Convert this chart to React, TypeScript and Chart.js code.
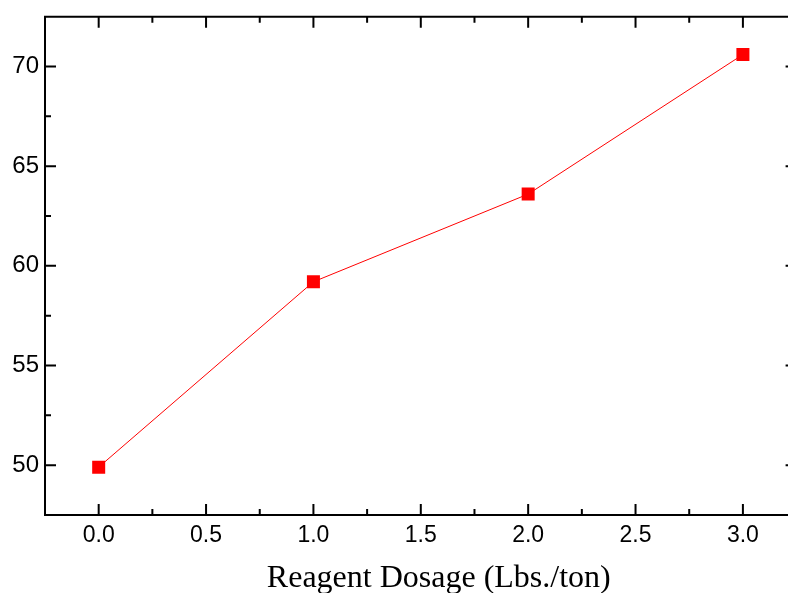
import React, { useEffect, useRef } from "react";
import { Chart, registerables } from "chart.js";

Chart.register(...registerables);

const xValues = [0, 1, 2, 3];
const yValues = [49.9, 59.2, 63.6, 70.6];
const xTickValues = [0, 0.5, 1, 1.5, 2, 2.5, 3];
const xTickLabels = ["0.0", "0.5", "1.0", "1.5", "2.0", "2.5", "3.0"];
const xMinorValues = [-0.25, 0.25, 0.75, 1.25, 1.75, 2.25, 2.75, 3.25];
const yTickValues = [50, 55, 60, 65, 70];
const yTickLabels = ["50", "55", "60", "65", "70"];
const yMinorValues = [47.5, 52.5, 57.5, 62.5, 67.5, 72.5];
const xAxisMin = -0.25;
const xAxisEnd = 3.25; // right frame of the plot box (just outside the picture)
const xVisibleMax = 3.21;
const yAxisMin = 47.5;
const yAxisMax = 72.5;
const xTitle = "Reagent Dosage (Lbs./ton)";

const framePlugin = {
  id: "frame",
  afterDraw(chart: any) {
    const { ctx, chartArea: a, scales } = chart;
    const xs = scales.x;
    const ys = scales.y;
    const rightX = xs.getPixelForValue(xAxisEnd);
    ctx.save();
    ctx.strokeStyle = "#000";
    ctx.lineWidth = 2;
    ctx.lineCap = "butt";
    ctx.beginPath();
    ctx.moveTo(a.left, a.top);
    ctx.lineTo(rightX + 1, a.top);
    ctx.moveTo(a.left, a.bottom);
    ctx.lineTo(rightX + 1, a.bottom);
    ctx.moveTo(a.left, a.top - 1);
    ctx.lineTo(a.left, a.bottom + 1);
    ctx.moveTo(rightX, a.top - 1);
    ctx.lineTo(rightX, a.bottom + 1);
    const major = 11;
    const minor = 6;
    xTickValues.forEach((v) => {
      const px = xs.getPixelForValue(v);
      ctx.moveTo(px, a.bottom);
      ctx.lineTo(px, a.bottom - major);
      ctx.moveTo(px, a.top);
      ctx.lineTo(px, a.top + major);
    });
    xMinorValues.forEach((v) => {
      const px = xs.getPixelForValue(v);
      ctx.moveTo(px, a.bottom);
      ctx.lineTo(px, a.bottom - minor);
      ctx.moveTo(px, a.top);
      ctx.lineTo(px, a.top + minor);
    });
    yTickValues.forEach((v) => {
      const py = ys.getPixelForValue(v);
      ctx.moveTo(a.left, py);
      ctx.lineTo(a.left + major, py);
      ctx.moveTo(rightX, py);
      ctx.lineTo(rightX - major, py);
    });
    yMinorValues.forEach((v) => {
      const py = ys.getPixelForValue(v);
      ctx.moveTo(a.left, py);
      ctx.lineTo(a.left + minor, py);
      ctx.moveTo(rightX, py);
      ctx.lineTo(rightX - minor, py);
    });
    ctx.stroke();
    ctx.font = '32px "Liberation Serif", "Times New Roman", serif';
    ctx.fillStyle = "#000";
    ctx.textAlign = "center";
    ctx.textBaseline = "alphabetic";
    ctx.fillText(xTitle, (a.left + rightX) / 2 + 18, 587);
    ctx.restore();
  },
};

export default function App() {
  const canvasRef = useRef<HTMLCanvasElement | null>(null);

  useEffect(() => {
    const canvas = canvasRef.current;
    if (!canvas) return;
    const chart = new Chart(canvas, {
      type: "line",
      data: {
        datasets: [
          {
            data: xValues.map((x, i) => ({ x, y: yValues[i] })),
            borderColor: "#ff0000",
            borderWidth: 1,
            backgroundColor: "#ff0000",
            pointStyle: "rect",
            pointRadius: 9.2,
            pointBorderWidth: 0,
            pointBackgroundColor: "#ff0000",
            tension: 0,
            fill: false,
          },
        ],
      },
      options: {
        responsive: false,
        animation: false,
        layout: { autoPadding: false, padding: { top: 16.7, right: 0, left: 0, bottom: 0 } },
        plugins: {
          legend: { display: false },
          tooltip: { enabled: false },
          title: { display: false },
        },
        scales: {
          x: {
            type: "linear",
            min: xAxisMin,
            max: xVisibleMax,
            grid: { display: false, drawTicks: false },
            border: { display: false },
            afterBuildTicks: (s: any) => {
              s.ticks = xTickValues.map((v) => ({ value: v }));
            },
            afterFit: (s: any) => {
              s.height = 78;
              s.paddingLeft = 0;
              s.paddingRight = 0;
            },
            ticks: {
              autoSkip: false,
              maxRotation: 0,
              padding: 7,
              color: "#000",
              font: { family: '"Liberation Sans", Arial, sans-serif', size: 23 },
              callback: (v: any) => {
                const i = xTickValues.indexOf(Number(v));
                return i >= 0 ? xTickLabels[i] : "";
              },
            },
          },
          y: {
            type: "linear",
            min: yAxisMin,
            max: yAxisMax,
            grid: { display: false, drawTicks: false },
            border: { display: false },
            afterBuildTicks: (s: any) => {
              s.ticks = yTickValues.map((v) => ({ value: v }));
            },
            afterFit: (s: any) => {
              s.width = 45;
              s.paddingTop = 0;
              s.paddingBottom = 0;
            },
            ticks: {
              autoSkip: false,
              padding: 6,
              color: "#000",
              font: { family: '"Liberation Sans", Arial, sans-serif', size: 24, lineHeight: 0.8 },
              callback: (v: any) => {
                const i = yTickValues.indexOf(Number(v));
                return i >= 0 ? yTickLabels[i] : "";
              },
            },
          },
        },
      },
      plugins: [framePlugin],
    });
    return () => chart.destroy();
  }, []);

  return (
    <div
      style={{
        position: "fixed",
        left: 0,
        top: 0,
        width: 788,
        height: 593,
        overflow: "hidden",
        background: "#fff",
      }}
    >
      <canvas ref={canvasRef} width={788} height={593} style={{ display: "block" }} />
    </div>
  );
}
